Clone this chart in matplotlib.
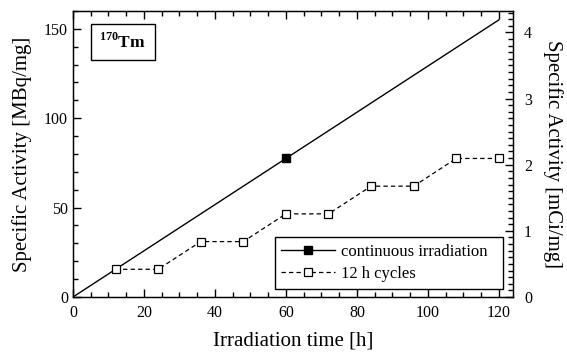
import matplotlib.pyplot as plt
from matplotlib.lines import Line2D
from matplotlib.ticker import MultipleLocator

plt.rcParams["font.family"] = ["Liberation Serif", "DejaVu Serif"]
plt.rcParams["mathtext.fontset"] = "custom"
plt.rcParams["mathtext.rm"] = "Liberation Serif"
plt.rcParams["mathtext.bf"] = "Liberation Serif:bold"

# Continuous irradiation (straight line, marker at 60 h)
cont_time = [0, 120]
cont_activity = [0, 155]
cont_marker_time = [60]
cont_marker_activity = [77.5]

# 12 h cycles
cyc_time = [12, 24, 36, 48, 60, 72, 84, 96, 108, 120]
cyc_activity = [15.5, 15.5, 31, 31, 46.5, 46.5, 62, 62, 77.5, 77.5]

legend_labels = ["continuous irradiation  ", "12 h cycles"]

MBQ_PER_MCI = 37.0

fig = plt.figure(figsize=(5.67, 3.54), dpi=100)
ax = fig.add_axes([0.1287, 0.161, 0.7761, 0.808])

ax.plot(cont_time, cont_activity, color="black", lw=1.0)
ax.plot(cont_marker_time, cont_marker_activity, "s", color="black", ms=6)
ax.plot(cyc_time, cyc_activity, "--s", color="black", lw=0.9,
        dashes=(3.5, 2.5), ms=6, mfc="white", mec="black", mew=0.9)

ax.set_xlim(0, 124)
ax.set_ylim(0, 160)
ax.xaxis.set_major_locator(MultipleLocator(20))
ax.xaxis.set_minor_locator(MultipleLocator(5))
ax.yaxis.set_major_locator(MultipleLocator(50))
ax.yaxis.set_minor_locator(MultipleLocator(10))
ax.tick_params(which="both", direction="in", top=True, right=False,
               labelsize=11.5, width=1.0)
ax.tick_params(axis="x", which="major", pad=6)
ax.tick_params(which="major", length=6)
ax.tick_params(which="minor", length=3.5)
for sp in ax.spines.values():
    sp.set_linewidth(1.0)

ax.set_xlabel("Irradiation time [h]", fontsize=15, labelpad=7)
ax.set_ylabel("Specific Activity [MBq/mg]", fontsize=15, labelpad=9)

ax2 = ax.twinx()
ax2.set_ylim(0, 160 / MBQ_PER_MCI)
ax2.yaxis.set_major_locator(MultipleLocator(1))
ax2.yaxis.set_minor_locator(MultipleLocator(0.1))
ax2.tick_params(which="both", direction="in", labelsize=11.5, width=1.0,
                pad=8)
ax2.tick_params(which="major", length=6)
ax2.tick_params(which="minor", length=3.5)
ax2.set_ylabel("Specific Activity [mCi/mg]", fontsize=15, rotation=270,
               labelpad=22)

ax.text(0.06, 0.925, r"$^{\mathregular{170}}$Tm", transform=ax.transAxes,
        fontsize=12.5, fontweight="bold", va="top", ha="left",
        bbox=dict(boxstyle="square,pad=0.5", fc="white", ec="black", lw=1.0))

h1 = Line2D([], [], color="black", lw=1.0, marker="s", ms=6)
h2 = Line2D([], [], color="black", lw=0.9, ls="--", dashes=(3.5, 2.5),
            marker="s", ms=6, mfc="white", mec="black", mew=0.9)
leg = ax.legend([h1, h2], legend_labels,
                loc="lower right", bbox_to_anchor=(0.977, 0.028), fontsize=12,
                fancybox=False, edgecolor="black", framealpha=1,
                handlelength=3.2, handletextpad=0.4, borderpad=0.4,
                labelspacing=0.4, borderaxespad=0.0)
leg.get_frame().set_linewidth(1.0)

fig.savefig("out.png", dpi=100)
